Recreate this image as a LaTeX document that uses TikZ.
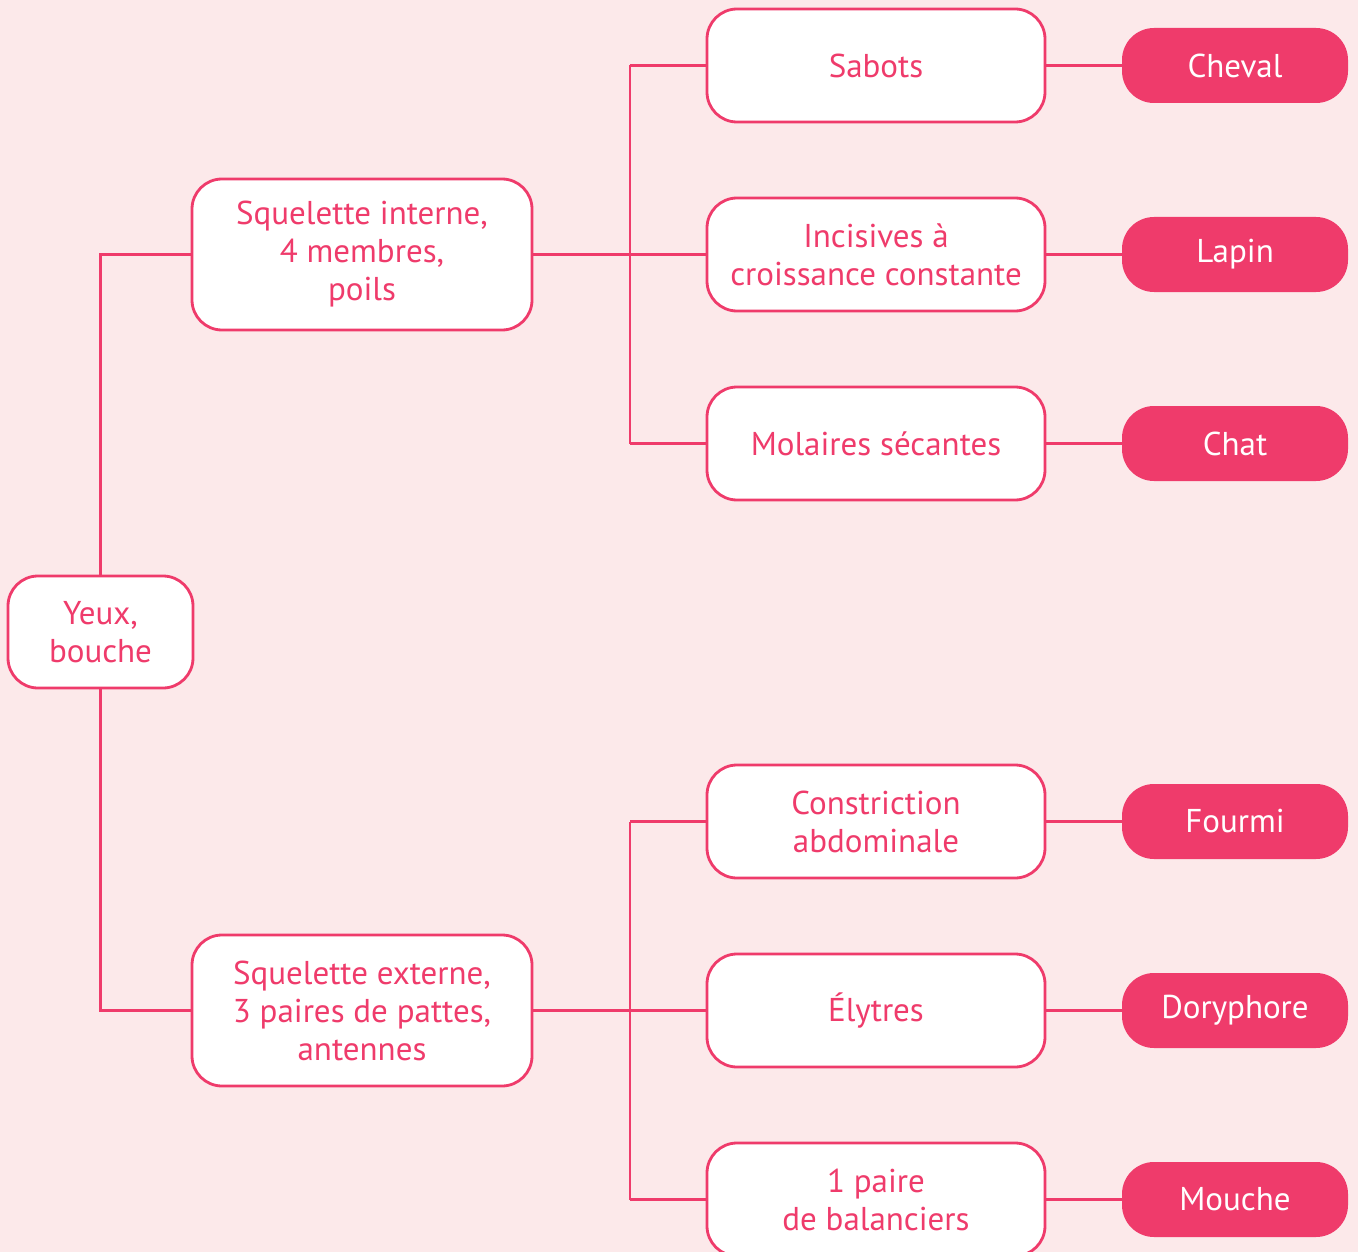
\documentclass[tikz,border=0pt]{standalone}
\usepackage{fontspec}
\setmainfont{PT Sans}
\definecolor{bgpink}{HTML}{FCE9EA}
\definecolor{mainpink}{HTML}{EF3B6B}
\begin{document}
\begin{tikzpicture}[x=1pt,y=-1pt,
  every node/.style={font=\fontsize{33}{38}\selectfont, align=center, inner sep=0pt},
  wbox/.style={draw=mainpink, line width=2.8pt, fill=white, text=mainpink, rounded corners=30pt},
  pbox/.style={fill=mainpink, text=white, rounded corners=32pt, minimum width=226pt, minimum height=75pt},
  link/.style={draw=mainpink, line width=2.8pt}]
\fill[bgpink] (0,0) rectangle (1358,1252);
\useasboundingbox (0,0) rectangle (1358,1252);
% root
\node[wbox, minimum width=185pt, minimum height=112pt] (root) at (100.5,632) {Yeux,\\bouche};
% level 1
\node[wbox, minimum width=340pt, minimum height=151pt] (int) at (362,254.5) {Squelette interne,\\4 membres,\\poils};
\node[wbox, minimum width=340pt, minimum height=151pt] (ext) at (362,1010.5) {Squelette externe,\\3 paires de pattes,\\antennes};
% level 2
\tikzset{mid/.style={wbox, minimum width=338pt, minimum height=113pt}}
\node[mid] (sab) at (876,65.5) {Sabots};
\node[mid] (inc) at (876,254.5) {Incisives à\\croissance constante};
\node[mid] (mol) at (876,443.5) {Molaires sécantes};
\node[mid] (con) at (876,821.5) {Constriction\\abdominale};
\node[mid] (ely) at (876,1010.5) {Élytres};
\node[mid] (bal) at (876,1199.5) {1 paire\\de balanciers};
% level 3
\node[pbox] (chev) at (1235,65.5) {Cheval};
\node[pbox] (lap) at (1235,254.5) {Lapin};
\node[pbox] (chat) at (1235,443.5) {Chat};
\node[pbox] (fou) at (1235,821.5) {Fourmi};
\node[pbox] (dor) at (1235,1010.5) {Doryphore};
\node[pbox] (mou) at (1235,1199.5) {Mouche};
% connectors
\coordinate (jtop) at (630,254.5);
\coordinate (jbot) at (630,1010.5);
\draw[link] (root.north) |- (int.west);
\draw[link] (root.south) |- (ext.west);
\draw[link] (int.east) -- (inc.west);
\draw[link] (ext.east) -- (ely.west);
\draw[link] (jtop |- sab.west) -- (jtop |- mol.west);
\draw[link] (jtop |- sab.west) -- (sab.west);
\draw[link] (jtop |- mol.west) -- (mol.west);
\draw[link] (jbot |- con.west) -- (jbot |- bal.west);
\draw[link] (jbot |- con.west) -- (con.west);
\draw[link] (jbot |- bal.west) -- (bal.west);
\draw[link] (sab.east) -- (chev.west);
\draw[link] (inc.east) -- (lap.west);
\draw[link] (mol.east) -- (chat.west);
\draw[link] (con.east) -- (fou.west);
\draw[link] (ely.east) -- (dor.west);
\draw[link] (bal.east) -- (mou.west);
\end{tikzpicture}
\end{document}
